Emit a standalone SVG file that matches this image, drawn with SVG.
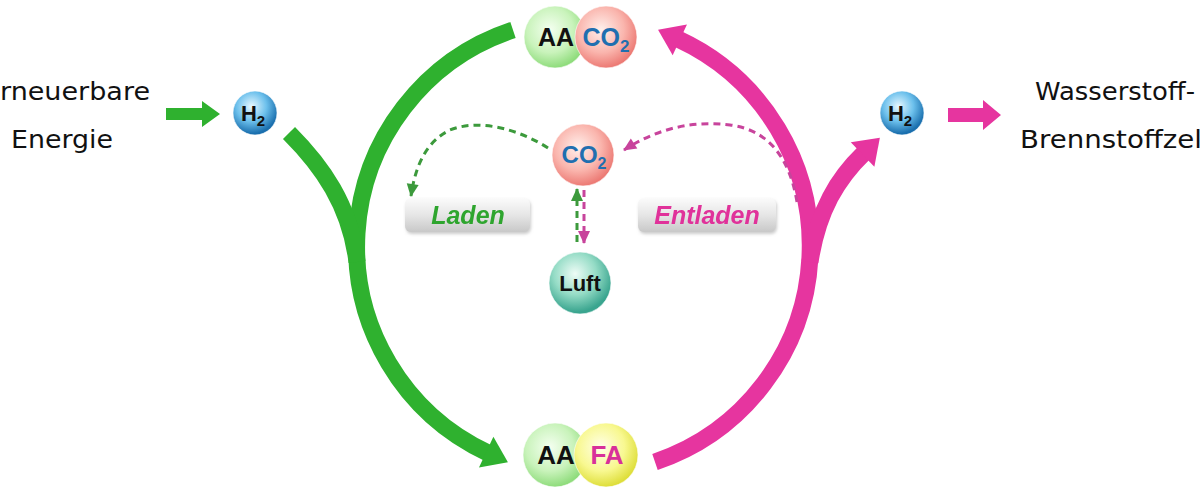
<svg xmlns="http://www.w3.org/2000/svg" width="1200" height="488" viewBox="0 0 1200 488">
  <defs>
    <radialGradient id="gGreen" cx="0.42" cy="0.38" r="0.62">
      <stop offset="0" stop-color="#f4fff0"/>
      <stop offset="0.6" stop-color="#c9f3bb"/>
      <stop offset="1" stop-color="#8fdc7c"/>
    </radialGradient>
    <radialGradient id="gPink" cx="0.42" cy="0.38" r="0.62">
      <stop offset="0" stop-color="#fff0ec"/>
      <stop offset="0.6" stop-color="#fab5ad"/>
      <stop offset="1" stop-color="#ec7a74"/>
    </radialGradient>
    <radialGradient id="gYellow" cx="0.42" cy="0.38" r="0.62">
      <stop offset="0" stop-color="#ffffe8"/>
      <stop offset="0.6" stop-color="#f8f890"/>
      <stop offset="1" stop-color="#dede3a"/>
    </radialGradient>
    <radialGradient id="gBlue" cx="0.42" cy="0.35" r="0.62">
      <stop offset="0" stop-color="#e8f8ff"/>
      <stop offset="0.55" stop-color="#6cc0ec"/>
      <stop offset="1" stop-color="#1a6fae"/>
    </radialGradient>
    <radialGradient id="gTeal" cx="0.42" cy="0.35" r="0.62">
      <stop offset="0" stop-color="#eefcf6"/>
      <stop offset="0.55" stop-color="#95dcc6"/>
      <stop offset="1" stop-color="#3aa58f"/>
    </radialGradient>
    <linearGradient id="gBox" x1="0" y1="0" x2="0" y2="1">
      <stop offset="0" stop-color="#fbfbfb"/>
      <stop offset="0.5" stop-color="#e6e6e6"/>
      <stop offset="1" stop-color="#c8c8c8"/>
    </linearGradient>
    <marker id="mGreenBig" markerUnits="userSpaceOnUse" markerWidth="40" markerHeight="40" viewBox="0 -20 30 40" refX="2" refY="0" orient="auto">
      <path d="M0,-17 L24,0 L0,17 z" fill="#2fb12f"/>
    </marker>
    <marker id="mPinkBig" markerUnits="userSpaceOnUse" markerWidth="40" markerHeight="40" viewBox="0 -20 30 40" refX="2" refY="0" orient="auto">
      <path d="M0,-17 L24,0 L0,17 z" fill="#e6359f"/>
    </marker>
    <marker id="mGreenSm" markerUnits="userSpaceOnUse" markerWidth="16" markerHeight="16" viewBox="0 -8 14 16" refX="12" refY="0" orient="auto">
      <path d="M0,-6 L13,0 L0,6 z" fill="#3c9a3c"/>
    </marker>
    <marker id="mPinkSm" markerUnits="userSpaceOnUse" markerWidth="16" markerHeight="16" viewBox="0 -8 14 16" refX="12" refY="0" orient="auto">
      <path d="M0,-6 L13,0 L0,6 z" fill="#c8449c"/>
    </marker>
    <filter id="shadow" x="-10%" y="-20%" width="120%" height="150%">
      <feDropShadow dx="1" dy="2" stdDeviation="1.5" flood-color="#999" flood-opacity="0.5"/>
    </filter>
  </defs>
  <style>
    .hand { font-family: "DejaVu Sans", "Liberation Sans", sans-serif; font-size: 24px; fill: #111; }
    .lbl { font-family: "Liberation Sans", Arial, sans-serif; font-weight: bold; }
    .big { fill: none; stroke-width: 17; stroke-linecap: butt; }
    .green { stroke: #2fb12f; }
    .pink { stroke: #e6359f; }
    .dash { fill: none; stroke-width: 3; stroke-dasharray: 7 5; }
    .ring { stroke: #ffffff; stroke-opacity: 0.6; stroke-width: 1; }
  </style>

  <rect width="1200" height="488" fill="#ffffff"/>

  <!-- side texts -->
  <g id="text-left">
    <text class="hand" x="150" y="100" text-anchor="end" textLength="150" lengthAdjust="spacingAndGlyphs">rneuerbare</text>
    <text class="hand" x="62" y="148" text-anchor="middle" textLength="102" lengthAdjust="spacingAndGlyphs">Energie</text>
  </g>
  <g id="text-right">
    <text class="hand" x="1035" y="100" textLength="160" lengthAdjust="spacingAndGlyphs">Wasserstoff-</text>
    <text class="hand" x="1020" y="148" textLength="182" lengthAdjust="spacingAndGlyphs">Brennstoffzel</text>
  </g>

  <!-- connectors -->
  <g id="connectors">
    <!-- input / output arrows -->
    <path d="M166,108 H202 V101 L220,114 L202,127 V120 H166 z" fill="#2fb12f"/>
    <path d="M948,108 H983 V100 L1001,115 L983,130 V122 H948 z" fill="#e6359f"/>
    <!-- big cycle arcs -->
    <path class="big green" d="M513,30 A228,228 0 0 0 488,453" marker-end="url(#mGreenBig)"/>
    <path class="big green" d="M289,133 C322,166 350,205 357,262"/>
    <path class="big pink" d="M655,462 A228,228 0 0 0 678,39" marker-end="url(#mPinkBig)"/>
    <path class="big pink" d="M810,262 C818,210 838,178 864,153" marker-end="url(#mPinkBig)"/>
    <!-- dashed arcs -->
    <path class="dash" stroke="#3c9a3c" d="M548,148 C520,130 480,118 450,130 C425,142 415,168 411,196" marker-end="url(#mGreenSm)"/>
    <path class="dash" stroke="#c8449c" d="M797,202 C790,160 770,130 730,125 C690,120 655,130 624,150" marker-end="url(#mPinkSm)"/>
    <path class="dash" stroke="#3c9a3c" d="M577,242 V189" marker-end="url(#mGreenSm)"/>
    <path class="dash" stroke="#c8449c" d="M584,190 V243" marker-end="url(#mPinkSm)"/>
  </g>

  <!-- labels -->
  <g id="label-laden" filter="url(#shadow)">
    <rect x="405" y="198" width="125" height="34" rx="6" fill="url(#gBox)"/>
    <text class="lbl" x="468" y="224" text-anchor="middle" font-size="25" font-style="italic" fill="#2ea52e">Laden</text>
  </g>
  <g id="label-entladen" filter="url(#shadow)">
    <rect x="638" y="198" width="138" height="34" rx="6" fill="url(#gBox)"/>
    <text class="lbl" x="707" y="224" text-anchor="middle" font-size="25" font-style="italic" fill="#e0309a">Entladen</text>
  </g>

  <!-- nodes -->
  <g id="node-h2-left">
    <circle cx="255" cy="113" r="22" fill="url(#gBlue)" class="ring"/>
    <text class="lbl" x="253" y="121" text-anchor="middle" font-size="22" fill="#111">H<tspan font-size="15" dy="5">2</tspan></text>
  </g>
  <g id="node-h2-right">
    <circle cx="902" cy="113" r="22" fill="url(#gBlue)" class="ring"/>
    <text class="lbl" x="900" y="121" text-anchor="middle" font-size="22" fill="#111">H<tspan font-size="15" dy="5">2</tspan></text>
  </g>
  <g id="node-aa-co2-top">
    <circle cx="555" cy="37" r="31" fill="url(#gGreen)" class="ring"/>
    <circle cx="606" cy="37" r="31" fill="url(#gPink)" class="ring"/>
    <text class="lbl" x="556" y="46" text-anchor="middle" font-size="25" fill="#111">AA</text>
    <text class="lbl" x="606" y="46" text-anchor="middle" font-size="25" fill="#1f6fb0">CO<tspan font-size="17" dy="6">2</tspan></text>
  </g>
  <g id="node-co2-mid">
    <circle cx="583" cy="155" r="31" fill="url(#gPink)" class="ring"/>
    <text class="lbl" x="584" y="163" text-anchor="middle" font-size="24" fill="#1f6fb0">CO<tspan font-size="16" dy="6">2</tspan></text>
  </g>
  <g id="node-luft">
    <circle cx="580" cy="283" r="31" fill="url(#gTeal)" class="ring"/>
    <text class="lbl" x="580" y="291" text-anchor="middle" font-size="22" fill="#111">Luft</text>
  </g>
  <g id="node-aa-fa-bottom">
    <circle cx="555" cy="455" r="32" fill="url(#gGreen)" class="ring"/>
    <circle cx="606" cy="455" r="32" fill="url(#gYellow)" class="ring"/>
    <text class="lbl" x="556" y="464" text-anchor="middle" font-size="26" fill="#111">AA</text>
    <text class="lbl" x="607" y="464" text-anchor="middle" font-size="26" fill="#d8309a">FA</text>
  </g>
</svg>
